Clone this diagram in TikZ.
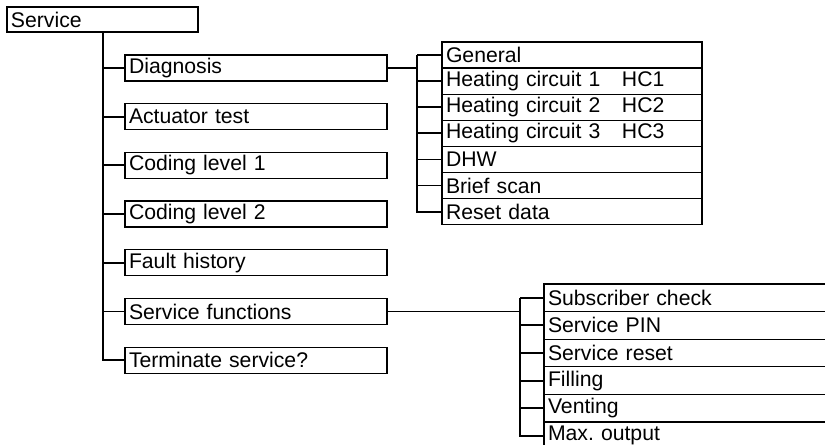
\documentclass[tikz,border=0pt]{standalone}
\usepackage{fontspec}
\setmainfont{Liberation Sans}
\frenchspacing
\begin{document}
\begin{tikzpicture}[x=0.75pt,y=-0.75pt,
  box/.style={draw, line width=1pt, anchor=north west, outer sep=0pt,
    inner xsep=3pt, inner ysep=0pt, align=left,
    font=\fontsize{15.9}{18}\selectfont},
  mainbox/.style={box, text width=190.5pt, minimum height=19.5pt},
  diagbox/.style={box, text width=189pt, minimum height=19.6pt},
  sfbox/.style={box, text width=216pt, minimum height=20.7pt},
  conn/.style={line width=1.4pt}]
\clip (0,0) rectangle (825,445);
% root
\node[box, text width=137.25pt, minimum height=18.75pt] (svc) at (7,7) {Service};
% main menu
\node[mainbox] (diag) at (125,55) {Diagnosis};
\node[mainbox] (act) at (125,103.7) {Actuator test};
\node[mainbox] (cl1) at (125,152.4) {Coding level 1};
\node[mainbox] (cl2) at (125,201) {Coding level 2};
\node[mainbox] (fh) at (125,249.8) {Fault history};
\node[mainbox] (sf) at (125,298.5) {Service functions};
\node[mainbox] (term) at (125,347.2) {Terminate service?};
% diagnosis submenu
\node[diagbox] (gen) at (442,42) {General};
\node[diagbox] (hc1) at (442,68.1) {\makebox[132pt][l]{Heating circuit 1}HC1};
\node[diagbox] (hc2) at (442,94.2) {\makebox[132pt][l]{Heating circuit 2}HC2};
\node[diagbox] (hc3) at (442,120.3) {\makebox[132pt][l]{Heating circuit 3}HC3};
\node[diagbox] (dhw) at (442,146.4) {DHW};
\node[diagbox] (brief) at (442,172.5) {Brief scan};
\node[diagbox] (reset) at (442,198.6) {Reset data};
% service functions submenu
\node[sfbox] (sub) at (544,284) {Subscriber check};
\node[sfbox] (pin) at (544,311.6) {Service PIN};
\node[sfbox] (sreset) at (544,339.2) {Service reset};
\node[sfbox] (fill) at (544,366.8) {Filling};
\node[sfbox] (vent) at (544,394.4) {Venting};
\node[sfbox] (maxo) at (544,422) {Max. output};
% trunk coordinates
\coordinate (t) at (103,0);
\coordinate (d) at (417,0);
\coordinate (s) at (520,0);
% main connectors
\draw[conn] (svc.south -| t) |- (term.west);
\foreach \n in {diag,act,cl1,cl2,fh,sf}
  \draw[conn] (\n.west -| t) -- (\n.west);
% diagnosis connectors
\draw[conn] (diag.east) -- (diag.east -| d);
\draw[conn] (gen.west -| d) |- (reset.west);
\foreach \n in {gen,hc1,hc2,hc3,dhw,brief}
  \draw[conn] (\n.west -| d) -- (\n.west);
% service functions connectors
\draw[conn] (sf.east) -- (sf.east -| s);
\draw[conn] (sub.west -| s) |- (maxo.west);
\foreach \n in {sub,pin,sreset,fill,vent}
  \draw[conn] (\n.west -| s) -- (\n.west);
\end{tikzpicture}
\end{document}
